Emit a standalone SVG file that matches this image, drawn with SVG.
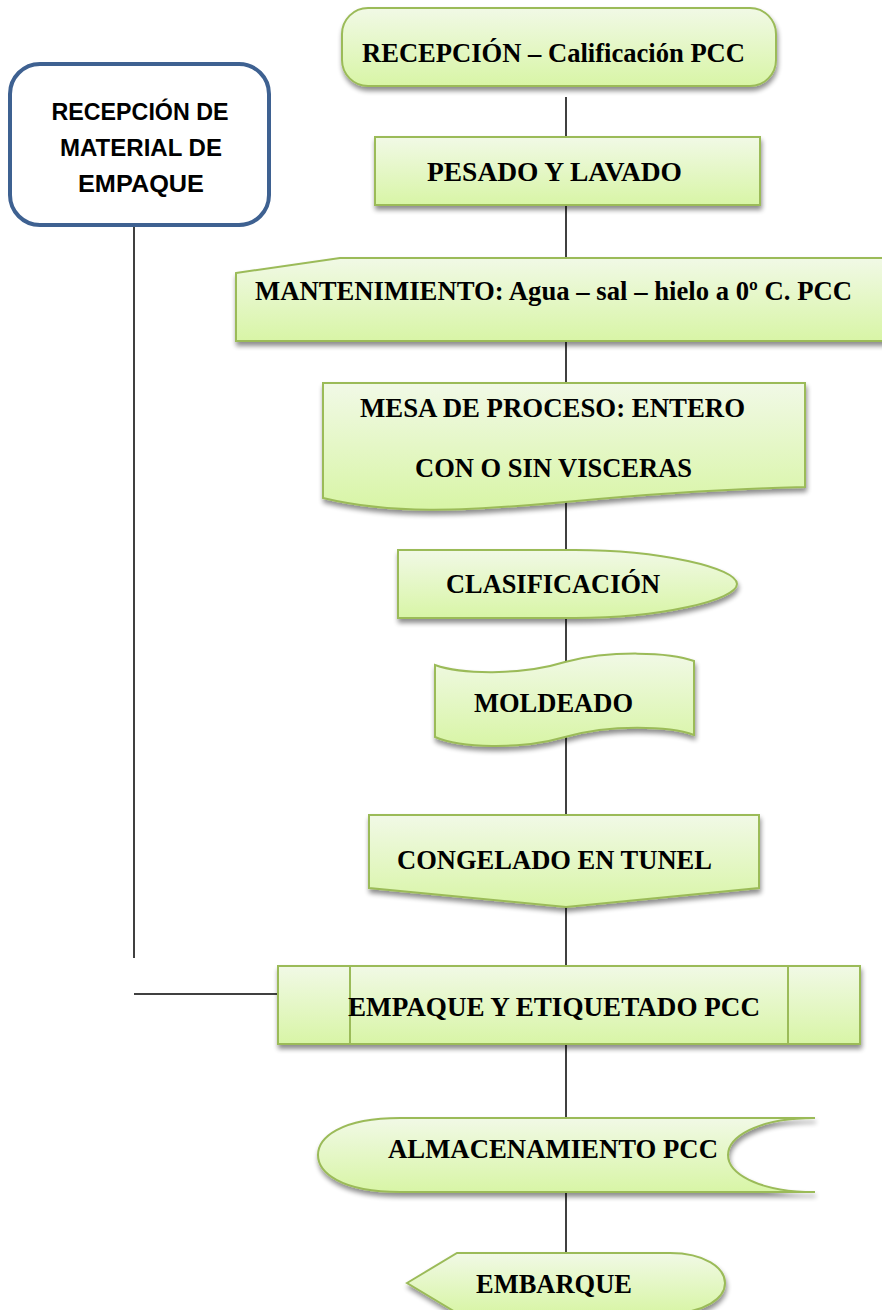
<svg xmlns="http://www.w3.org/2000/svg" width="882" height="1310" viewBox="0 0 882 1310">
<defs>
<linearGradient id="g" x1="0" y1="0" x2="0" y2="1">
<stop offset="0" stop-color="#f1f9e6"/>
<stop offset="1" stop-color="#d8f5a6"/>
</linearGradient>
<filter id="sh" x="-10%" y="-20%" width="120%" height="150%">
<feGaussianBlur in="SourceAlpha" stdDeviation="2.5"/>
<feOffset dx="1" dy="4" result="b"/>
<feComponentTransfer><feFuncA type="linear" slope="0.45"/></feComponentTransfer>
<feMerge><feMergeNode/><feMergeNode in="SourceGraphic"/></feMerge>
</filter>
</defs>
<style>
.n{fill:url(#g);stroke:#9bbb59;stroke-width:2;filter:url(#sh)}
.t{font-family:"Liberation Serif","Times New Roman",serif;font-weight:bold;font-size:26.5px;fill:#000}
.s{font-family:"Liberation Sans",Arial,sans-serif;font-weight:bold;font-size:24px;fill:#000;text-anchor:middle}
.c{stroke:#000;stroke-width:1.5;fill:none}
.in{stroke:#9bbb59;stroke-width:2}
</style>
<g id="connectors">
<line class="c" x1="566" y1="97" x2="566" y2="137"/>
<line class="c" x1="566" y1="205" x2="566" y2="258"/>
<line class="c" x1="566" y1="341" x2="566" y2="383"/>
<line class="c" x1="566" y1="502" x2="566" y2="550"/>
<line class="c" x1="566" y1="618" x2="566" y2="662"/>
<line class="c" x1="566" y1="736" x2="566" y2="815"/>
<line class="c" x1="566" y1="907" x2="566" y2="966"/>
<line class="c" x1="566" y1="1044" x2="566" y2="1118"/>
<line class="c" x1="566" y1="1192" x2="566" y2="1253"/>
<line class="c" x1="134" y1="225" x2="134" y2="958"/>
<line class="c" x1="134" y1="994" x2="278" y2="994"/>
</g>
<g id="recepcion">
<rect class="n" x="342" y="8" width="434" height="78" rx="26"/>
<text class="t" x="362" y="62" textLength="383" lengthAdjust="spacingAndGlyphs">RECEPCIÓN – Calificación PCC</text>
</g>
<g id="material">
<rect x="10" y="64" width="259" height="161" rx="30" fill="#fff" stroke="#3e6191" stroke-width="4"/>
<text class="s" x="140" y="120" textLength="177" lengthAdjust="spacingAndGlyphs">RECEPCIÓN DE</text>
<text class="s" x="141" y="156" textLength="162" lengthAdjust="spacingAndGlyphs">MATERIAL DE</text>
<text class="s" x="141" y="192" textLength="126" lengthAdjust="spacingAndGlyphs">EMPAQUE</text>
</g>
<g id="pesado">
<rect class="n" x="375" y="137" width="385" height="68"/>
<text class="t" x="427" y="181" textLength="255" lengthAdjust="spacingAndGlyphs">PESADO Y LAVADO</text>
</g>
<g id="mantenimiento">
<path class="n" d="M236,273 L340,258 L886,258 L886,341 L236,341 Z"/>
<text class="t" x="255" y="300" textLength="597" lengthAdjust="spacingAndGlyphs">MANTENIMIENTO: Agua – sal – hielo a 0º C. PCC</text>
</g>
<g id="mesa">
<path class="n" d="M323,383 H805 V487 C 760,488 680,491 565,502 C 460,512 390,514 323,498 Z"/>
<text class="t" x="360" y="417" textLength="385" lengthAdjust="spacingAndGlyphs">MESA DE PROCESO: ENTERO</text>
<text class="t" x="415" y="477" textLength="277" lengthAdjust="spacingAndGlyphs">CON O SIN VISCERAS</text>
</g>
<g id="clasificacion">
<path class="n" d="M398,550 H575 C 660,550 737,568 737,584 C 737,600 660,618 575,618 H398 Z"/>
<text class="t" x="446" y="593" textLength="214" lengthAdjust="spacingAndGlyphs">CLASIFICACIÓN</text>
</g>
<g id="moldeado">
<path class="n" d="M435,665 C 460,674 520,676 565,662 C 610,650 670,652 694,661 V735 C 670,726 610,724 565,737 C 520,750 460,748 435,737 Z"/>
<text class="t" x="474" y="712" textLength="159" lengthAdjust="spacingAndGlyphs">MOLDEADO</text>
</g>
<g id="congelado">
<path class="n" d="M369,815 H759 V888 L566,907 L369,888 Z"/>
<text class="t" x="397" y="869" textLength="315" lengthAdjust="spacingAndGlyphs">CONGELADO EN TUNEL</text>
</g>
<g id="empaque">
<rect class="n" x="278" y="966" width="582" height="78"/>
<line class="in" x1="350" y1="966" x2="350" y2="1044"/>
<line class="in" x1="788" y1="966" x2="788" y2="1044"/>
<text class="t" x="348" y="1016" textLength="412" lengthAdjust="spacingAndGlyphs">EMPAQUE Y ETIQUETADO PCC</text>
</g>
<g id="almacenamiento">
<path class="n" d="M400,1118 H815 C 755,1118 728,1138 728,1155 C 728,1172 755,1192 815,1192 H400 C 340,1192 318,1172 318,1155 C 318,1138 340,1118 400,1118 Z"/>
<text class="t" x="388" y="1158" textLength="330" lengthAdjust="spacingAndGlyphs">ALMACENAMIENTO PCC</text>
</g>
<g id="embarque">
<path class="n" d="M407,1283 L457,1253 H670 C 705,1253 725,1268 725,1283 C 725,1298 705,1313 670,1313 H457 Z"/>
<text class="t" x="476" y="1293" textLength="156" lengthAdjust="spacingAndGlyphs">EMBARQUE</text>
</g>
</svg>
